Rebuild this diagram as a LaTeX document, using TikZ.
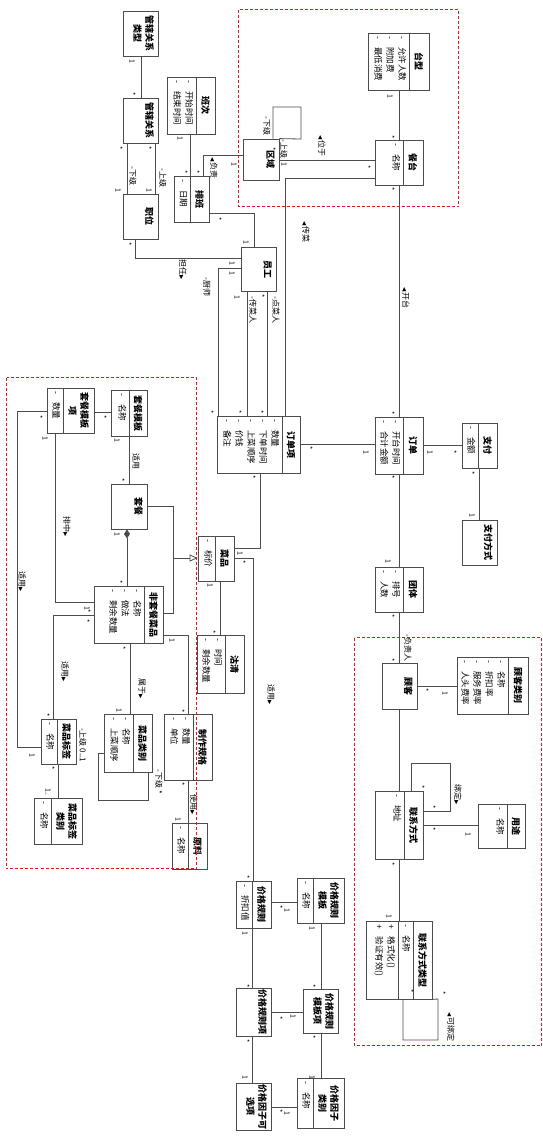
\documentclass[tikz,border=0pt]{standalone}
\usepackage{fontspec}
\setmainfont{Noto Sans CJK SC}
\newfontfamily\djv{DejaVu Sans}
\usetikzlibrary{arrows.meta}

\newcommand\aL[1]{-\hspace{8pt}#1}
\newcommand\oL[1]{+\hspace{8pt}#1}
\newcommand\trR{{\djv\fontsize{5.5}{6}\selectfont ▶}}
\newcommand\trL{{\djv\fontsize{5.5}{6}\selectfont ◀}}

\definecolor{zonered}{RGB}{230,20,30}
\tikzset{
 cbox/.style={draw=black!70, line width=0.8pt, fill=white, inner sep=0pt, rectangle},
 bline/.style={draw=black!70, line width=0.8pt},
 conn/.style={draw=black!70, line width=0.8pt},
 ttl/.style={rotate=-90, font=\bfseries\fontsize{9}{12}\selectfont, align=center, inner sep=0pt},
 attr/.style={rotate=-90, font=\fontsize{8.5}{12}\selectfont, align=left, inner sep=0pt, anchor=north west},
 lbl/.style={rotate=-90, font=\fontsize{8}{9}\selectfont, inner sep=0pt},
 mult/.style={rotate=-90, font=\fontsize{7}{8}\selectfont, inner sep=0pt},
 zone/.style={draw=zonered, line width=1pt, dash pattern=on 3pt off 2pt},
}

\newcommand\tbox[6]{%
 \node[cbox, minimum width={(#4-#2)*1pt}, minimum height={(#5-#3)*1pt}] (#1) at ({(#2+#4)/2},{(#3+#5)/2}) {};
 \node[ttl, anchor=north] (#1-t) at ({#4-4},{(#3+#5)/2}) {#6};
}
\newcommand\abox[8]{%
 \node[cbox, minimum width={(#4-#2)*1pt}, minimum height={(#5-#3)*1pt}] (#1) at ({(#2+#4)/2},{(#3+#5)/2}) {};
 \draw[bline] ({#6},{#3}) -- ({#6},{#5});
 \node[ttl] (#1-t) at ({(#6+#4)/2},{(#3+#5)/2}) {#7};
 \node[attr] (#1-a) at ({#6-2.5},{#3+3}) {#8};
}
\newcommand\lb[4]{\node[lbl] (#1) at (#2,#3) {#4};}
\newcommand\mt[4]{\node[mult] (#1) at (#2,#3) {#4};}

\begin{document}
\begin{tikzpicture}[x=1pt,y=-1pt]
\useasboundingbox (0,0) rectangle (543,1138);

% ---------- classes ----------
\tbox{gxlxlx}{123}{11}{158}{56}{管辖关系\\类型}
\tbox{gxgx}{123}{98}{158}{143}{管辖关系}
\tbox{zhiwei}{123}{194}{158}{239}{职位}
\abox{banci}{167}{77}{215}{134}{196}{班次}{\aL{开始时间}\\\aL{结束时间}}
\abox{paiban}{174}{176}{209}{222}{190}{排班}{\aL{日期}}
\tbox{quyu}{243}{139}{279}{180}{区域}
\abox{taixing}{368}{33}{429}{90}{409}{台型}{\aL{允许人数}\\\aL{附加费}\\\aL{最低消费}}
\abox{cantai}{375}{140}{423}{185}{403}{餐台}{\aL{名称}}
\tbox{yuangong}{241}{247}{276}{291}{员工}
\abox{ddx}{217}{416}{300}{473}{282}{订单项}{\aL{数量}\\\aL{下单时间}\\\aL{上菜顺序}\\\aL{价钱}\\\aL{备注}}
\abox{dingdan}{375}{417}{423}{474}{403}{订单}{\aL{开台时间}\\\aL{合计金额}}
\abox{zhifu}{462}{423}{497}{468}{478}{支付}{\aL{金额}}
\tbox{zffs}{462}{520}{497}{565}{支付方式}
\abox{tuanti}{375}{567}{423}{612}{403}{团体}{\aL{排号}\\\aL{人数}}
\tbox{guke}{382}{663}{417}{709}{顾客}
\abox{gklb}{457}{657}{528}{714}{508}{顾客类别}{\aL{名称}\\\aL{折扣率}\\\aL{服务费率}\\\aL{人头费率}}
\abox{lxfs}{375}{791}{423}{859}{404}{联系方式}{\aL{地址}}
\abox{yongtu}{478}{804}{525}{848}{507}{用途}{\aL{名称}}
% contact type with operations
\node[cbox, minimum width=66pt, minimum height=78pt] (lxlx) at (399,960) {};
\draw[bline] (413,921) -- (413,999);
\draw[bline] (398,921) -- (398,999);
\node[ttl] (lxlx-t) at (422.5,960) {联系方式类型};
\node[attr] (lxlx-a) at (410.5,924) {\aL{名称}};
\node[attr] (lxlx-o) at (395.5,924) {\oL{格式化()}\\\oL{验证有效()}};

\abox{tcmbx}{47}{388}{94}{433}{63}{套餐模板\\项}{\aL{数量}}
\abox{tcmb}{111}{390}{147}{436}{129}{套餐模板}{\aL{名称}}
\tbox{taocan}{111}{484}{147}{529}{套餐}
\abox{caipin}{198}{536}{234}{581}{215}{菜品}{\aL{标价}}
\abox{fei}{94}{586}{163}{643}{144}{非套餐菜品}{\aL{名称}\\\aL{做法}\\\aL{剩余数量}}
\abox{guqing}{197}{635}{244}{693}{225}{沽清}{\aL{时间}\\\aL{剩余数量}}
\abox{cplb}{104}{714}{152}{772}{133}{菜品类别}{\aL{名称}\\\aL{上菜顺序}}
\abox{cpbq}{41}{719}{76}{764}{57}{菜品标签}{\aL{名称}}
\abox{cpbqlb}{34}{798}{82}{844}{51}{菜品标签\\类别}{\aL{名称}}
\abox{zzgg}{164}{714}{212}{780}{193}{制作规格}{\aL{数量}\\\aL{单位}}
\abox{yuanliao}{172}{823}{207}{869}{188}{原料}{\aL{名称}}
\abox{jggz}{236}{881}{271}{928}{252}{价格规则}{\aL{折扣值}}
\abox{jggzmb}{297}{878}{344}{923}{313}{价格规则\\模板}{\aL{名称}}
\tbox{jggzx}{236}{988}{271}{1036}{价格规则项}
\tbox{jggzmbx}{303}{989}{338}{1033}{价格规则\\模板项}
\tbox{jgyzkxx}{236}{1083}{271}{1130}{价格因子可\\选项}
\abox{jgyzlb}{297}{1078}{344}{1128}{313}{价格因子\\类别}{\aL{名称}}

% ---------- connectors ----------
\draw[conn] (gxlxlx.south -| 141,0) -- (gxgx.north -| 141,0);
\draw[conn] (gxgx.south -| 127,0) -- (zhiwei.north -| 127,0);
\draw[conn] (gxgx.south -| 155,0) -- (zhiwei.north -| 155,0);
\draw[conn] (banci.south -| 190,0) -- (paiban.north -| 190,0);
\draw[conn] (paiban.north -| 203,0) -- (203,155) -- (quyu.west |- 0,155);
\draw[conn] (paiban.east |- 0,213) -| (yuangong.north -| 254,0);
\draw[conn] (zhiwei.south -| 135,0) |- (yuangong.west |- 0,258);
\draw[conn] (yuangong.west |- 0,268) -| (ddx.north -| 218,0);
\draw[conn] (yuangong.south -| 247,0) -- (ddx.north -| 247,0);
\draw[conn] (yuangong.south -| 267,0) -- (ddx.north -| 267,0);
\draw[conn] (cantai.west |- 0,178) -| (ddx.north -| 285,0);
\draw[conn] (taixing.south -| 399,0) -- (cantai.north -| 399,0);
\draw[conn] (quyu.east |- 0,160) -- (cantai.west |- 0,160);
\draw[conn] (quyu.north -| 273,0) -- (273,107) -- (301,107) -- (301,139) -- (quyu.north east);
\draw[conn] (cantai.south -| 399,0) -- (dingdan.north -| 399,0);
\draw[conn] (ddx.east |- 0,444) -- (dingdan.west |- 0,444);
\draw[conn] (dingdan.east |- 0,445) -- (zhifu.west |- 0,445);
\draw[conn] (zhifu.south -| 479,0) -- (zffs.north -| 479,0);
\draw[conn] (dingdan.south -| 399,0) -- (tuanti.north -| 399,0);
\draw[conn] (tuanti.south -| 399,0) -- (guke.north -| 399,0);
\draw[conn] (guke.east |- 0,686) -- (gklb.west |- 0,686);
\draw[conn] (guke.south -| 399,0) -- (lxfs.north -| 399,0);
\draw[conn] (lxfs.east |- 0,811) -- (450,811) -- (450,763) -- (411,763) -- (lxfs.north -| 411,0);
\draw[conn] (lxfs.east |- 0,825) -- (yongtu.west |- 0,825);
\draw[conn] (lxfs.south -| 399,0) -- (lxlx.north -| 399,0);
\draw[conn] (lxlx.south -| 403,0) -- (403,1040) -- (438,1040) -- (438,999) -- (lxlx.south east);

\draw[conn] (tcmb.south -| 129,0) -- (taocan.north -| 129,0);
\draw[conn] (tcmbx.east |- 0,412) -- (tcmb.west |- 0,412);
\draw[conn] (tcmbx.south -| 55,0) |- (fei.west |- 0,602);
\draw[conn] (tcmbx.west |- 0,411) -| (17,747) -- (cpbq.west |- 0,747);
\draw[conn, {Diamond[length=9pt,width=6pt]}-] (taocan.south -| 127,0) -- (fei.north -| 127,0);
\draw[conn] (taocan.east |- 0,506) -| (173,558);
\draw[conn] (fei.east |- 0,613) -| (173,558);
\draw[conn, -{Triangle[open,length=8pt,width=7pt]}] (173,558) -- (caipin.west |- 0,558);
\draw[conn] (ddx.south -| 260,0) |- (caipin.east |- 0,548);
\draw[conn] (caipin.south -| 220,0) -- (guqing.north -| 220,0);
\draw[conn] (caipin.east |- 0,558) -| (jggz.north -| 253,0);
\draw[conn] (fei.south -| 130,0) -- (cplb.north -| 130,0);
\draw[conn] (fei.west |- 0,615) -| (cpbq.north -| 53,0);
\draw[conn] (cplb.west |- 0,753) -- (98,753) -- (98,800) -- (148,800) -- (cplb.south -| 148,0);
\draw[conn] (cpbq.south -| 58,0) -- (cpbqlb.north -| 58,0);
\draw[conn] (fei.east |- 0,635) -| (zzgg.north -| 188,0);
\draw[conn] (zzgg.south -| 188,0) -- (yuanliao.north -| 188,0);
\draw[conn] (jggz.east |- 0,902) -- (jggzmb.west |- 0,902);
\draw[conn] (jggz.south -| 252,0) -- (jggzx.north -| 252,0);
\draw[conn] (jggzmb.south -| 321,0) -- (jggzmbx.north -| 321,0);
\draw[conn] (jggzx.east |- 0,1012) -- (jggzmbx.west |- 0,1012);
\draw[conn] (jggzx.south -| 252,0) -- (jgyzkxx.north -| 252,0);
\draw[conn] (jggzmbx.south -| 321,0) -- (jgyzlb.north -| 321,0);
\draw[conn] (jgyzkxx.east |- 0,1107) -- (jgyzlb.west |- 0,1107);

% ---------- labels ----------
\lb{l1}{133}{176}{-下级}
\lb{l2}{163}{178}{-上级}
\lb{l3}{214}{168}{\trL 负责}
\lb{l4}{183}{270}{担任\trR}
\lb{l5}{207}{287}{-厨师}
\lb{l6}{253}{310}{-传菜人}
\lb{l7}{276}{310}{-点菜人}
\lb{l8}{306}{232}{\trL 传菜}
\lb{l9}{322}{146}{\trL 位于}
\lb{l10}{267}{126}{-下级}
\lb{l11}{284}{149}{-上级}
\lb{l12}{406}{298}{\trL 开台}
\lb{l13}{408}{648}{-负责人}
\lb{l14}{458}{795}{绑定\trR}
\lb{l15}{451}{1027}{\trL 可绑定}
\lb{l16}{136}{461}{适用}
\lb{l17}{67}{527}{排中\trR}
\lb{l18}{22}{582}{适用\trR}
\lb{l19}{65}{672}{适用\trR}
\lb{l20}{142}{689}{属于\trR}
\lb{l21}{83}{745}{-上级 0..1}
\lb{l22}{159}{782}{-下级 *}
\lb{l23}{194}{805}{使用\trR}
\lb{l24}{271}{695}{适用\trR}

% ---------- multiplicities ----------
\mt{m1}{132}{61}{1}
\mt{m2}{133}{94}{*}
\mt{m3}{120}{148}{*}
\mt{m4}{149}{148}{*}
\mt{m5}{118}{190}{1}
\mt{m6}{149}{190}{1}
\mt{m7}{180}{138}{1}
\mt{m8}{185}{172}{*}
\mt{m9}{197}{172}{*}
\mt{m10}{234}{164}{1}
\mt{m11}{219}{219}{*}
\mt{m12}{246}{242}{1}
\mt{m13}{129}{244}{*}
\mt{m14}{232}{263}{1}
\mt{m15}{232}{273}{1}
\mt{m16}{237}{297}{1}
\mt{m17}{262}{296}{*}
\mt{m18}{211}{412}{*}
\mt{m19}{239}{412}{*}
\mt{m20}{261}{412}{*}
\mt{m21}{390}{96}{1}
\mt{m22}{392}{137}{*}
\mt{m23}{368}{167}{*}
\mt{m24}{284}{164}{1}
\mt{m25}{273}{149}{*}
\mt{m26}{392}{189}{*}
\mt{m27}{392}{413}{*}
\mt{m28}{310}{448}{*}
\mt{m29}{366}{452}{1}
\mt{m30}{430}{452}{1}
\mt{m31}{454}{452}{*}
\mt{m32}{472}{473}{*}
\mt{m33}{472}{515}{1}
\mt{m34}{392}{477}{*}
\mt{m35}{388}{561}{1}
\mt{m36}{392}{616}{*}
\mt{m37}{392}{660}{*}
\mt{m38}{426}{690}{*}
\mt{m39}{445}{693}{1}
\mt{m40}{422}{787}{*}
\mt{m41}{433}{807}{*}
\mt{m42}{433}{829}{*}
\mt{m43}{468}{834}{1}
\mt{m44}{392}{864}{*}
\mt{m45}{389}{916}{1}
\mt{m46}{443}{993}{*}
\mt{m47}{411}{991}{*}
\mt{m48}{104}{417}{*}
\mt{m49}{117}{440}{1}
\mt{m50}{122}{480}{*}
\mt{m51}{45}{438}{1}
\mt{m52}{40}{417}{*}
\mt{m53}{87}{608}{1}
\mt{m54}{32}{755}{1}
\mt{m55}{117}{534}{1}
\mt{m56}{120}{582}{*}
\mt{m57}{253}{477}{*}
\mt{m58}{240}{553}{1}
\mt{m59}{210}{585}{1}
\mt{m60}{213}{632}{*}
\mt{m61}{243}{562}{*}
\mt{m62}{247}{877}{*}
\mt{m63}{88}{611}{*}
\mt{m64}{87}{621}{*}
\mt{m65}{47}{715}{*}
\mt{m66}{123}{648}{*}
\mt{m67}{119}{710}{1}
\mt{m68}{52}{768}{*}
\mt{m69}{48}{792}{1..}
\mt{m70}{172}{640}{1}
\mt{m71}{182}{711}{*}
\mt{m72}{182}{784}{*}
\mt{m73}{178}{819}{1}
\mt{m74}{280}{907}{*}
\mt{m75}{287}{910}{1}
\mt{m76}{245}{933}{1}
\mt{m77}{247}{986}{*}
\mt{m78}{312}{928}{1}
\mt{m79}{313}{986}{*}
\mt{m80}{280}{1018}{*}
\mt{m81}{293}{1016}{1}
\mt{m82}{247}{1041}{*}
\mt{m83}{245}{1077}{1}
\mt{m84}{313}{1037}{*}
\mt{m85}{312}{1077}{1}
\mt{m86}{280}{1111}{*}
\mt{m87}{287}{1113}{1}

% ---------- zones ----------
\draw[zone] (238.5,9.5) rectangle (458.5,206.5);
\draw[zone] (6.5,377.5) rectangle (196.5,868.5);
\draw[zone] (354.5,637.5) rectangle (541.5,1045.5);
\end{tikzpicture}
\end{document}
